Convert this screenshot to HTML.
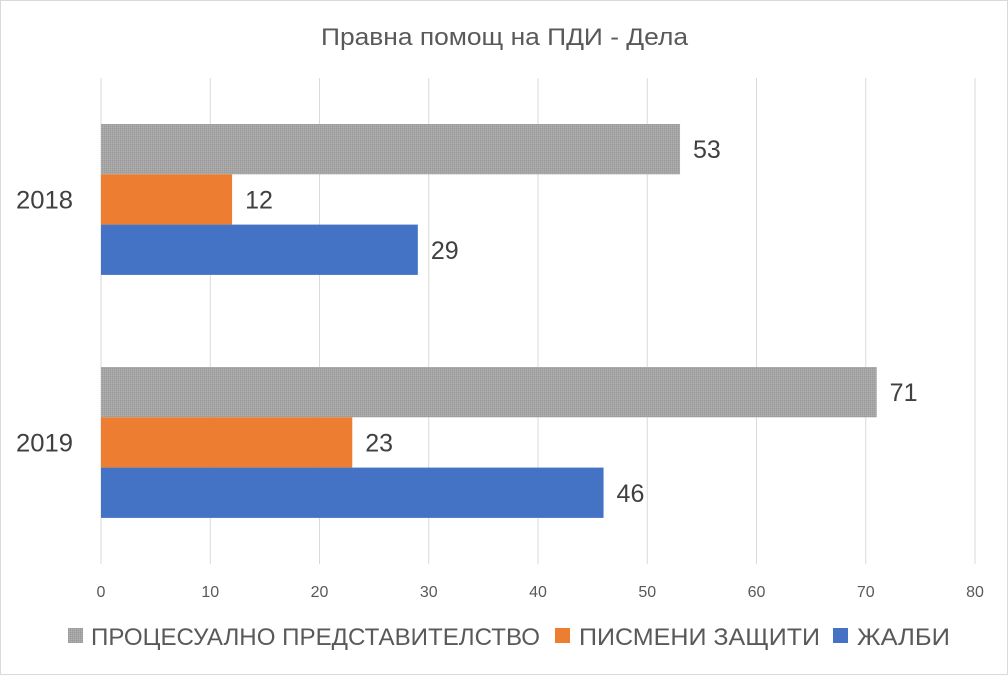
<!DOCTYPE html>
<html><head><meta charset="utf-8"><style>
html,body{margin:0;padding:0;background:#fff;}
body{width:1008px;height:675px;overflow:hidden;font-family:"Liberation Sans",sans-serif;}
</style></head><body>
<svg id="chart" width="1008" height="675" xmlns="http://www.w3.org/2000/svg">
<defs>
<pattern id="gp" width="2" height="2" patternUnits="userSpaceOnUse">
<rect width="2" height="2" fill="#a5a5a5"/><rect width="1" height="1" fill="#999"/><rect x="1" y="1" width="1" height="1" fill="#b0b0b0"/>
</pattern>
</defs>
<rect x="0.5" y="0.5" width="1007" height="674" fill="#fff" stroke="#d9d9d9"/>
<text x="321" y="45" textLength="367" lengthAdjust="spacingAndGlyphs" font-size="24" fill="#595959">Правна помощ на ПДИ - Дела</text>
<g id="grid"></g><g id="bars"></g><g id="labels"></g>
<g id="legend">
<rect x="68" y="628" width="15" height="15" fill="url(#gp)"/>
<text x="91" y="645" textLength="449" lengthAdjust="spacingAndGlyphs" font-size="24" fill="#595959">ПРОЦЕСУАЛНО ПРЕДСТАВИТЕЛСТВО</text>
<rect x="555" y="628" width="15" height="15" fill="#ed7d31"/>
<text x="579" y="645" textLength="241" lengthAdjust="spacingAndGlyphs" font-size="24" fill="#595959">ПИСМЕНИ ЗАЩИТИ</text>
<rect x="833" y="628" width="15" height="15" fill="#4472c4"/>
<text x="857" y="645" textLength="93" lengthAdjust="spacingAndGlyphs" font-size="24" fill="#595959">ЖАЛБИ</text>
</g>
</svg>
<script>
const categories = ["2018", "2019"];
const procesualno = [53, 71];
const pismeni = [12, 23];
const zhalbi = [29, 46];
const ticks = [0, 10, 20, 30, 40, 50, 60, 70, 80];

const NS = "http://www.w3.org/2000/svg";
const x0 = 101, x1 = 975, yTop = 78, yBot = 564, xMax = 80;
const xs = v => x0 + (x1 - x0) * v / xMax;
const band = (yBot - yTop) / categories.length;
function mk(tag, attrs, parent) {
  const e = document.createElementNS(NS, tag);
  for (const k in attrs) e.setAttribute(k, attrs[k]);
  parent.appendChild(e);
  return e;
}
const grid = document.getElementById('grid');
const bars = document.getElementById('bars');
const labels = document.getElementById('labels');
ticks.forEach(t => {
  const l = mk('line', {x1: xs(t), x2: xs(t), y1: yTop, y2: yBot, stroke: '#d9d9d9', 'stroke-width': 1}, grid);
  
  
  const tx = mk('text', {x: xs(t), y: 597, 'text-anchor': 'middle', 'font-size': 16, fill: '#595959'}, labels);
  tx.textContent = t;
  
  
});
const series = [
  {name: 'procesualno', vals: procesualno, fill: 'url(#gp)'},
  {name: 'pismeni', vals: pismeni, fill: '#ed7d31'},
  {name: 'zhalbi', vals: zhalbi, fill: '#4472c4'}
];
const barH = 50.3, offset = 46;
categories.forEach((c, i) => {
  const by = yTop + band * i;
  const cl = mk('text', {x: 16, y: by + band / 2 + 9, 'font-size': 25, textLength: 57, lengthAdjust: 'spacingAndGlyphs', fill: '#404040'}, labels);
  cl.textContent = c;
  
  
  series.forEach((s, j) => {
    const y = by + offset + j * barH;
    const r = mk('rect', {x: x0, y: y, width: xs(s.vals[i]) - x0, height: barH, fill: s.fill}, bars);
    
    
    const v = mk('text', {x: xs(s.vals[i]) + 13, y: y + barH / 2 + 9, 'font-size': 25, fill: '#404040'}, labels);
    v.textContent = s.vals[i];
    
    
  });
});
</script>
</body></html>
